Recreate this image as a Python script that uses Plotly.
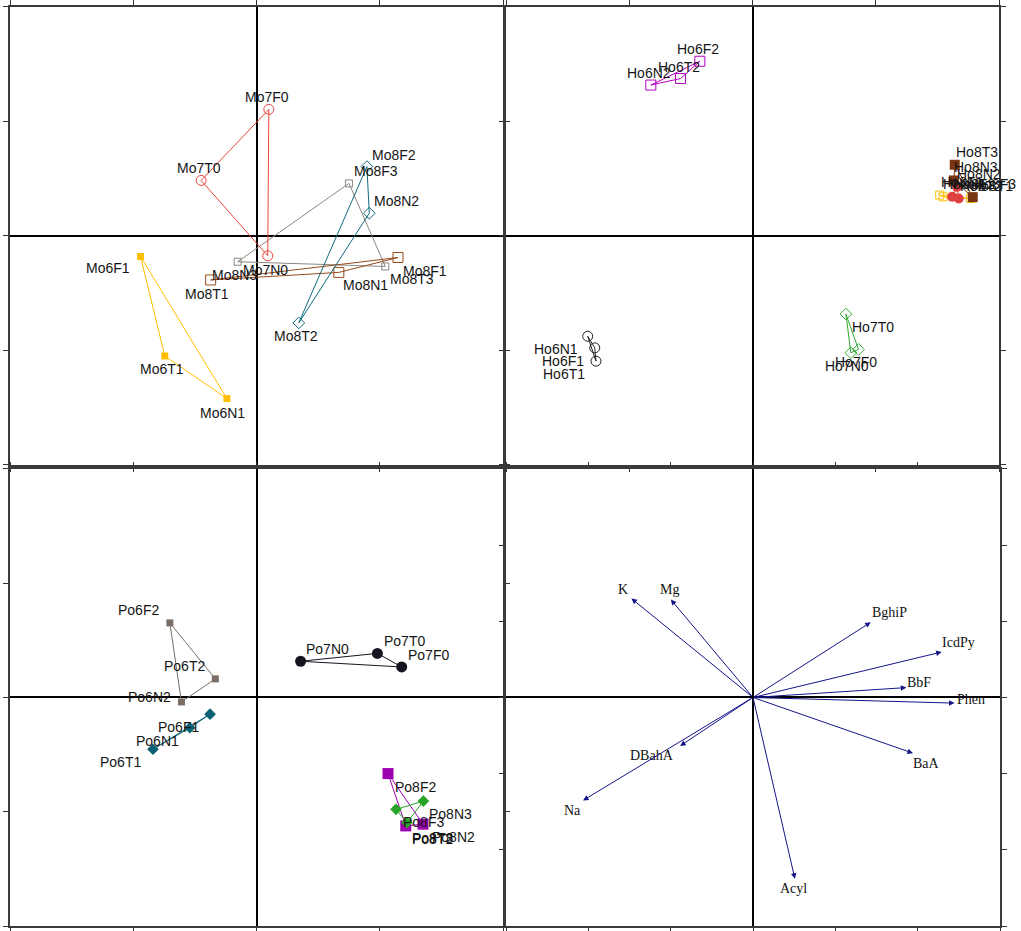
import plotly.graph_objects as go

# ---- sample scores, panel "Mo" ----
mo7_names = ["Mo7F0", "Mo7T0", "Mo7N0"]
mo7_x = [0.10, -0.449, 0.091]
mo7_y = [1.106, 0.485, -0.173]

mo8a_names = ["Mo8F3", "Mo8N3", "Mo8T3"]
mo8a_x = [0.750, -0.153, 1.045]
mo8a_y = [0.459, -0.225, -0.266]

mo8b_names = ["Mo8T1", "Mo8N1", "Mo8F1"]
mo8b_x = [-0.372, 0.668, 1.148]
mo8b_y = [-0.384, -0.318, -0.188]

mo8c_names = ["Mo8F2", "Mo8N2", "Mo8T2"]
mo8c_x = [0.896, 0.915, 0.343]
mo8c_y = [0.606, 0.199, -0.759]

mo6_names = ["Mo6F1", "Mo6T1", "Mo6N1"]
mo6_x = [-0.941, -0.744, -0.240]
mo6_y = [-0.179, -1.048, -1.420]

# ---- sample scores, panel "Ho" ----
ho6a_names = ["Ho6F2", "Ho6T2", "Ho6N2"]
ho6a_x = [-0.427, -0.584, -0.825]
ho6a_y = [1.526, 1.375, 1.318]

ho6b_names = ["Ho6N1", "Ho6F1", "Ho6T1"]
ho6b_x = [-1.337, -1.280, -1.270]
ho6b_y = [-0.876, -0.977, -1.093]

ho7_names = ["Ho7T0", "Ho7F0", "Ho7N0"]
ho7_x = [0.758, 0.860, 0.798]
ho7_y = [-0.682, -0.991, -1.020]

ho8a_names = ["Ho8T3", "Ho8N3", "Ho8F3"]
ho8a_x = [1.641, 1.634, 1.787]
ho8a_y = [0.622, 0.485, 0.339]

ho8b_names = ["Ho8F2", "Ho8N2", "Ho8T2"]
ho8b_x = [1.620, 1.659, 1.673]
ho8b_y = [0.342, 0.429, 0.327]

ho8c_names = ["Ho8F1", "Ho8N1", "Ho8T1"]
ho8c_x = [1.519, 1.546, 1.768]
ho8c_y = [0.357, 0.342, 0.327]

# ---- sample scores, panel "Po" ----
po6a_names = ["Po6F2", "Po6T2", "Po6N2"]
po6a_x = [-0.703, -0.334, -0.609]
po6a_y = [0.653, 0.163, -0.039]

po6b_names = ["Po6F1", "Po6N1", "Po6T1"]
po6b_x = [-0.377, -0.541, -0.840]
po6b_y = [-0.146, -0.265, -0.453]

po7_names = ["Po7N0", "Po7T0", "Po7F0"]
po7_x = [0.358, 0.981, 1.178]
po7_y = [0.317, 0.386, 0.267]

po8a_names = ["Po8F2", "Po8T2", "Po8N2"]
po8a_x = [1.067, 1.211, 1.351]
po8a_y = [-0.666, -1.124, -1.109]

po8b_names = ["Po8N3", "Po8F3", "Po8T3"]
po8b_x = [1.354, 1.132, 1.221]
po8b_y = [-0.907, -0.979, -1.095]

# ---- variable loadings (biplot arrows) ----
var_names = ["K", "Mg", "BghiP", "IcdPy", "BbF", "Phen", "BaA", "Acyl", "DBahA", "Na"]
var_x = [-1.476, -0.998, 1.430, 2.291, 1.863, 2.448, 1.943, 0.509, -0.885, -2.064]
var_y = [1.299, 1.286, 0.987, 0.597, 0.130, -0.074, -0.731, -2.381, -0.636, -1.351]

# label placements, in pixels (dx right, dy down) from each point
ABOVE = (-2, -12)
BELOW = (-3, 13)
R_ABOVE = (27, -12)
R_BELOW = (27, 13)
L_BELOW = (-32, 13)
L_ABOVE = (-31, -13)
H8 = (22, -13)

W, H = 1021, 931
fig = go.Figure()
annotations = []

LABEL_FONT = dict(family="Liberation Sans, Arial, sans-serif", size=14, color="#151515")


def group(xa, ya, names, xs, ys, color, symbol, size, places, lw=1):
    # closed outline joining the three samples, then the markers
    fig.add_trace(go.Scatter(
        x=xs + xs[:1], y=ys + ys[:1], mode="lines",
        line=dict(color=color, width=lw), xaxis=xa, yaxis=ya,
        hoverinfo="skip", showlegend=False))
    open_sym = symbol.endswith("-open")
    fig.add_trace(go.Scatter(
        x=xs, y=ys, mode="markers", xaxis=xa, yaxis=ya, text=names,
        marker=dict(symbol=symbol, size=size, color=color,
                    line=dict(color=color, width=1 if open_sym else 0)),
        showlegend=False))
    for n, x, y, (dx, dy) in zip(names, xs, ys, places):
        annotations.append(dict(
            x=x, y=y, xref=xa, yref=ya, text=n, showarrow=False,
            xshift=dx, yshift=-dy, font=LABEL_FONT))


# panel Mo (top left)
group("x", "y", mo8a_names, mo8a_x, mo8a_y, "#8c8680", "square-open", 7, [R_ABOVE, BELOW, R_BELOW])
group("x", "y", mo8b_names, mo8b_x, mo8b_y, "#964a1e", "square-open", 10, [(-4, 14), R_BELOW, R_BELOW])
group("x", "y", mo8c_names, mo8c_x, mo8c_y, "#0f6a7c", "diamond-open", 9, [R_ABOVE, R_ABOVE, BELOW])
group("x", "y", mo7_names, mo7_x, mo7_y, "#e8453c", "circle-open", 10, [ABOVE, ABOVE, (-2, 14)])
group("x", "y", mo6_names, mo6_x, mo6_y, "#ffbf00", "square", 7, [(-33, 12), BELOW, (-4, 14)])

# panel Ho (top right)
group("x2", "y2", ho6a_names, ho6a_x, ho6a_y, "#b300c3", "square-open", 10, [ABOVE, ABOVE, ABOVE])
group("x2", "y2", ho6b_names, ho6b_x, ho6b_y, "#222222", "circle-open", 10, [L_BELOW, L_BELOW, L_BELOW])
group("x2", "y2", ho7_names, ho7_x, ho7_y, "#33a833", "diamond-open", 9, [R_BELOW, BELOW, (-4, 13)])
group("x2", "y2", ho8c_names, ho8c_x, ho8c_y, "#ffbf00", "square-open", 8, [H8, H8, H8])
group("x2", "y2", ho8b_names, ho8b_x, ho8b_y, "#e04040", "circle", 10, [H8, H8, H8])
group("x2", "y2", ho8a_names, ho8a_x, ho8a_y, "#7a3512", "square", 10, [H8, H8, H8])

# panel Po (bottom left)
group("x3", "y3", po6a_names, po6a_x, po6a_y, "#7a6e66", "square", 7, [L_ABOVE, L_ABOVE, (-32, -5)])
group("x3", "y3", po6b_names, po6b_x, po6b_y, "#0b6275", "diamond", 9, [L_BELOW, L_BELOW, L_BELOW])
group("x3", "y3", po7_names, po7_x, po7_y, "#15151f", "circle", 11, [R_ABOVE, R_ABOVE, R_ABOVE])
group("x3", "y3", po8a_names, po8a_x, po8a_y, "#9c00b0", "square", 11, [R_BELOW, R_BELOW, (30, 13)])
group("x3", "y3", po8b_names, po8b_x, po8b_y, "#28a428", "diamond", 9, [R_BELOW, R_BELOW, (26, 15)])

# panel of loadings (bottom right)
var_label_shift = [(-8, -9), (-1, -10), (19, -10), (17, -10), (13, -5), (16, -4),
                   (14, 10), (-1, 10), (-28, 10), (-11, 10)]
ARROW = "#14148a"
for n, x, y, (dx, dy) in zip(var_names, var_x, var_y, var_label_shift):
    annotations.append(dict(
        x=x, y=y, ax=0, ay=0, xref="x4", yref="y4", axref="x4", ayref="y4",
        text="", showarrow=True, arrowhead=2, arrowsize=1.1, arrowwidth=1,
        arrowcolor=ARROW, standoff=0, startstandoff=0))
    annotations.append(dict(
        x=x, y=y, xref="x4", yref="y4", text=n, showarrow=False,
        xshift=dx, yshift=-dy,
        font=dict(family="Liberation Serif, Times New Roman, serif", size=14, color="#111111")))


def px(a, b):
    return [a / W, b / W]


def py(top, bottom):
    return [1 - bottom / H, 1 - top / H]


frame = dict(showgrid=False, showticklabels=False, ticks="outside", ticklen=5,
             tickcolor="#333333", tickwidth=1, showline=True, mirror="ticks",
             linecolor="#3a3a3a", linewidth=1.5, zeroline=True,
             zerolinecolor="#000000", fixedrange=True)

layout_axes = {}
panels = [
    ("", px(10, 503), py(4, 466), 2, 1),
    ("2", px(506, 999), py(4, 466), 2, 1),
    ("3", px(10, 503), py(470, 931), 2, 1),
    ("4", px(506, 1000), py(470, 931), 3, 1),
]
for suf, dx_, dy_, r, dt in panels:
    layout_axes["xaxis" + suf] = dict(frame, domain=dx_, range=[-r, r], dtick=dt,
                                      anchor="y" + suf, zerolinewidth=1.5)
    layout_axes["yaxis" + suf] = dict(frame, domain=dy_, range=[-r, r], dtick=dt,
                                      anchor="x" + suf, zerolinewidth=2)

fig.update_layout(
    width=W, height=H, margin=dict(l=0, r=0, t=0, b=0),
    paper_bgcolor="white", plot_bgcolor="white",
    annotations=annotations, showlegend=False, **layout_axes)

fig.write_html("out.html")
